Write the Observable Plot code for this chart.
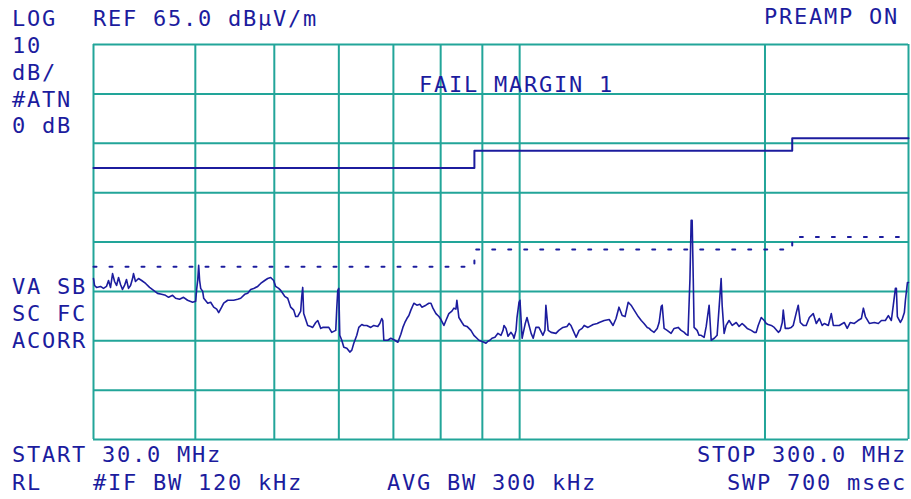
<!DOCTYPE html>
<html><head><meta charset="utf-8">
<script src="https://cdn.jsdelivr.net/npm/d3@7"></script>
<script src="https://cdn.jsdelivr.net/npm/@observablehq/plot@0.6"></script>
<style>
html,body{margin:0;padding:0;background:#fff;}
#wrap{position:relative;width:911px;height:499px;overflow:hidden;background:#fff;}
#wrap svg{position:absolute;left:0;top:0;}
.t{position:absolute;font-family:"DejaVu Sans Mono",monospace;font-size:22px;line-height:22px;letter-spacing:1.75px;color:#1c1c9e;white-space:pre;}
</style></head><body><div id="wrap"></div>
<script>
// Frequency grid (MHz) and amplitude grid (dBµV/m)
const gridFreqs = [30, 40, 50, 60, 70, 80, 90, 100, 200, 300];
const gridLevels = [65, 55, 45, 35, 25, 15, 5, -5, -15];

// Limit line (FCC class B, 3 m) and margin line
const limitFreq = [30, 88, 216, 300];
const limitLevel = [40, 43.5, 46, 46];
const marginFreq = [30, 88, 216, 300];
const marginLevel = [20, 23.5, 26, 26];

// Measured trace
const traceFreq = [30.00,30.09,30.26,30.60,30.86,31.12,31.30,31.48,31.66,31.84,32.02,32.20,32.38,32.56,32.75,32.93,33.12,33.31,33.50,33.59,33.78,34.07,34.37,34.76,35.15,35.55,35.95,36.36,36.77,37.09,37.51,37.83,38.26,38.69,39.13,39.69,40.04,40.15,40.27,40.38,40.49,40.61,40.84,40.96,41.43,41.77,42.13,42.49,42.73,43.09,43.34,43.83,44.58,45.09,45.47,45.99,46.38,46.77,47.17,47.71,48.11,48.66,49.07,49.49,49.91,50.19,50.62,50.91,51.49,51.93,52.37,52.82,53.11,53.41,53.87,54.02,54.18,54.33,54.95,55.42,55.73,56.21,56.53,57.01,57.33,57.82,58.32,58.81,59.48,59.65,59.82,59.99,60.16,60.50,60.85,61.37,61.89,62.24,62.59,63.12,63.48,64.02,64.38,64.93,65.67,66.23,66.98,67.36,67.74,67.93,68.13,68.90,69.49,70.29,70.89,71.49,71.90,72.31,72.72,73.13,73.54,74.17,74.80,75.44,75.86,76.73,77.38,77.83,78.27,78.94,79.61,80.06,80.74,81.20,81.87,82.58,83.05,83.52,83.75,84.23,84.96,85.44,86.17,87.14,87.88,88.63,89.14,90.41,90.92,91.44,91.95,92.48,93.26,94.06,94.87,95.41,95.68,96.22,96.77,97.59,98.14,98.42,98.98,99.26,99.82,100.1,100.7,101.3,101.6,102.1,102.7,103.3,103.9,104.7,105.6,106.8,107.4,107.7,108.4,109.3,110.8,111.7,113.0,114.3,115.0,115.6,116.3,117.3,118.3,119.3,120.0,121.3,123.1,124.5,125.2,127.0,128.8,130.2,131.3,132.4,133.6,134.7,135.9,137.0,138.2,139.8,141.0,142.1,143.4,144.2,145.0,146.2,147.5,148.3,149.2,149.6,150.4,151.7,153.4,154.7,156.5,157.8,159.2,160.0,160.9,161.8,162.35,162.8,163.3,163.7,165.1,166.0,167.0,168.4,169.4,169.9,170.8,171.8,173.3,174.7,175.7,176.7,177.2,178.2,179.2,180.7,182.3,184.4,185.9,187.5,188.6,190.2,192.4,194.0,195.1,196.2,197.9,199.6,200.7,201.8,203.6,205.3,207.7,208.8,210.0,210.6,211.8,213.6,215.4,216.6,218.5,219.7,221.0,222.9,224.7,226.7,229.2,231.2,233.2,235.1,236.5,239.2,241.2,242.6,244.6,246.7,250.2,252.3,254.5,257.4,260.1,262.6,264.1,265.6,268.6,272.4,275.5,277.9,281.0,283.4,285.8,287.4,289.1,289.9,290.7,293.2,294.9,296.5,297.4,299.1,300.0];
const traceLevel = [17.6,16.2,15.8,16.0,15.6,16.0,17.2,15.8,18.6,17.0,16.2,17.8,16.4,15.4,16.2,17.4,15.6,16.2,17.6,18.6,17.0,17.6,17.2,16.6,15.8,15.2,14.6,14.4,14.2,13.8,14.2,13.6,13.4,13.8,13.2,12.8,13.0,15.4,17.2,20.3,17.2,15.6,15.0,13.6,12.6,12.8,11.8,11.4,10.7,11.8,12.6,13.2,13.2,13.4,13.6,14.4,14.6,15.4,15.6,16.0,16.6,17.2,17.6,17.8,17.2,16.0,15.6,15.2,14.0,13.6,11.8,11.2,9.9,9.9,11.0,13.8,15.8,10.5,8.1,7.9,7.7,8.7,9.1,7.5,7.7,7.7,7.7,6.7,7.1,11.6,15.2,15.6,6.1,5.1,3.7,3.5,2.7,3.1,4.5,6.1,7.7,8.3,8.1,8.1,7.7,8.1,7.9,8.5,9.5,9.1,5.1,5.1,5.5,5.1,4.7,6.3,7.7,8.7,9.5,10.1,11.2,12.6,12.2,12.4,11.8,12.2,12.6,12.6,11.6,10.5,9.9,9.3,8.1,9.1,10.5,11.0,11.6,11.4,13.2,9.7,8.7,8.1,7.9,7.1,6.1,5.5,5.1,4.7,4.5,4.9,5.1,5.5,5.7,6.5,6.1,7.1,8.1,7.5,5.9,6.7,6.1,5.5,7.1,9.7,12.8,13.2,5.5,7.5,8.5,9.7,8.1,6.5,5.5,7.7,7.7,6.1,7.1,12.2,7.1,6.7,6.5,7.1,7.7,7.9,8.5,8.1,7.1,5.7,7.1,7.5,8.1,7.7,8.3,8.5,8.7,9.1,9.3,8.1,9.5,11.8,10.1,9.9,12.8,12.2,11.2,9.9,9.1,8.5,7.7,7.5,7.1,6.7,7.5,8.7,12.0,12.2,7.5,7.1,6.5,7.5,7.7,7.1,6.7,6.3,6.1,17.6,29.4,29.4,17.8,7.7,7.1,6.1,6.1,5.7,7.9,9.5,12.2,5.1,5.5,6.1,11.8,17.6,12.2,6.5,8.1,9.1,8.1,8.7,7.9,8.5,8.1,7.5,7.1,6.7,6.7,8.1,9.7,9.1,8.5,8.3,8.1,7.7,6.7,7.1,8.7,11.2,7.5,7.5,7.7,8.1,10.7,12.2,8.7,8.1,8.1,9.7,10.5,8.5,9.5,8.1,8.5,8.1,10.5,8.1,8.1,8.1,8.7,7.5,8.7,8.5,9.1,9.5,11.6,9.9,8.5,8.7,8.5,9.1,9.1,10.1,9.1,12.2,15.6,15.6,9.9,8.7,9.5,10.7,13.2,16.8,16.8];

// Annotation texts
const labelsLeft = ["LOG", "10", "dB/", "#ATN", "0 dB", "VA SB", "SC FC", "ACORR", "START 30.0 MHz", "RL"];
const labelRef = "REF 65.0 dBµV/m";
const labelPreamp = "PREAMP ON";
const labelFail = "FAIL MARGIN 1";
const labelIfbw = "#IF BW 120 kHz";
const labelAvg = "AVG BW 300 kHz";
const labelStop = "STOP 300.0 MHz";
const labelSwp = "SWP 700 msec";

const grid = "#22a599";
const ink = "#1c1c9e";

const limit = limitFreq.map((f, i) => ({f, v: limitLevel[i]}));
const margin = marginFreq.map((f, i) => ({f, v: marginLevel[i]}));
const trace = traceFreq.map((f, i) => ({f, v: traceLevel[i]}));

const chart = Plot.plot({
  width: 911,
  height: 499,
  marginLeft: 93,
  marginRight: 3,
  marginTop: 44,
  marginBottom: 60,
  style: {background: "transparent"},
  x: {type: "log", domain: [30, 300], axis: null},
  y: {domain: [-15, 65], axis: null},
  marks: [
    Plot.ruleX(gridFreqs, {stroke: grid, strokeWidth: 2}),
    Plot.ruleY(gridLevels, {stroke: grid, strokeWidth: 2}),
    Plot.line(limit, {x: "f", y: "v", curve: "step-after", stroke: ink, strokeWidth: 2}),
    Plot.line(margin, {x: "f", y: "v", curve: "step-after", stroke: ink, strokeWidth: 2, strokeDasharray: "3,13"}),
    Plot.line(trace, {x: "f", y: "v", stroke: ink, strokeWidth: 1.6})
  ]
});

const wrap = document.getElementById("wrap");
wrap.appendChild(chart);

// Layout of the text annotations (positions only)
const leftLayout = [
  [12, 7.5], [12, 34.5], [12, 62], [12, 89], [12, 114.5],
  [12, 275.5], [12, 303], [12, 329.5], [12, 443.5], [12, 471.5]
];
function addText(str, pos) {
  const d = document.createElement("div");
  d.className = "t";
  d.textContent = str;
  if (pos.left !== undefined) d.style.left = pos.left + "px";
  if (pos.right !== undefined) d.style.right = pos.right + "px";
  d.style.top = pos.top + "px";
  wrap.appendChild(d);
}
labelsLeft.forEach((s, i) => addText(s, {left: leftLayout[i][0], top: leftLayout[i][1]}));
addText(labelRef, {left: 93, top: 7.5});
addText(labelPreamp, {right: 12, top: 5.5});
addText(labelFail, {left: 419, top: 73.5});
addText(labelIfbw, {left: 93, top: 471.5});
addText(labelAvg, {left: 387, top: 471.5});
addText(labelStop, {right: 4, top: 443.5});
addText(labelSwp, {right: 4, top: 471.5});
</script></body></html>
